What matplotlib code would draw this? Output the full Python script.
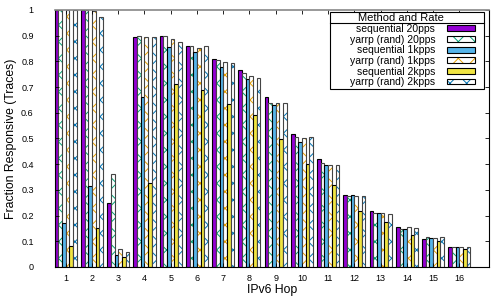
import numpy as np
import matplotlib.pyplot as plt
from matplotlib.patches import Patch, Rectangle

plt.rcParams["font.family"] = ["Liberation Sans", "DejaVu Sans"]
plt.rcParams["hatch.linewidth"] = 0.7

# data
hops = list(range(1, 17))
series_names = ["sequential 20pps", "yarrp (rand) 20pps", "sequential 1kpps",
                "yarrp (rand) 1kpps", "sequential 2kpps", "yarrp (rand) 2kpps"]
seq_20pps = [1.0, 1.0, 0.248, 0.896, 0.898, 0.861, 0.808, 0.767, 0.660, 0.519, 0.419, 0.279, 0.219, 0.157, 0.109, 0.077]
yarrp_20pps = [1.0, 1.0, 0.362, 0.899, 0.898, 0.860, 0.806, 0.754, 0.639, 0.505, 0.405, 0.275, 0.210, 0.147, 0.115, 0.077]
seq_1kpps = [0.172, 0.316, 0.047, 0.663, 0.855, 0.838, 0.776, 0.730, 0.629, 0.486, 0.398, 0.280, 0.210, 0.147, 0.112, 0.077]
yarrp_1kpps = [1.0, 0.995, 0.070, 0.894, 0.886, 0.853, 0.798, 0.741, 0.639, 0.501, 0.398, 0.276, 0.209, 0.154, 0.112, 0.077]
seq_2kpps = [0.083, 0.150, 0.040, 0.328, 0.711, 0.689, 0.633, 0.590, 0.497, 0.402, 0.318, 0.218, 0.174, 0.126, 0.100, 0.069]
yarrp_2kpps = [1.0, 0.974, 0.057, 0.894, 0.877, 0.861, 0.793, 0.734, 0.639, 0.505, 0.396, 0.276, 0.206, 0.150, 0.115, 0.078]

series = [seq_20pps, yarrp_20pps, seq_1kpps, yarrp_1kpps, seq_2kpps, yarrp_2kpps]
colors = ["#9400D3", "#009E73", "#56B4E9", "#E69F00", "#F0E442", "#0072B2"]
hatched = [False, True, False, True, False, True]
yticks = [0, 0.1, 0.2, 0.3, 0.4, 0.5, 0.6, 0.7, 0.8, 0.9, 1]
ytick_labels = ["0", "0.1", "0.2", "0.3", "0.4", "0.5", "0.6", "0.7", "0.8", "0.9", "1"]

fig = plt.figure(figsize=(5, 3), dpi=100)
ax = fig.add_axes([0.109, 0.11, 0.869, 0.857])

x = np.array(hops, dtype=float)
w = 0.14
handles = []
for i, (vals, col, hat) in enumerate(zip(series, colors, hatched)):
    pos = x + (i - 2.5) * w
    if hat:
        ax.bar(pos, vals, w, facecolor="white", edgecolor=col, hatch="xx", linewidth=0)
        ax.bar(pos, vals, w, fill=False, edgecolor="#444444", linewidth=0.8)
        handles.append((Patch(facecolor="white", edgecolor=col, hatch="xx", linewidth=0),
                        Patch(fill=False, edgecolor="black", linewidth=0.8)))
    else:
        ax.bar(pos, vals, w, color=col, edgecolor="black", linewidth=0.8)
        handles.append(Patch(facecolor=col, edgecolor="black", linewidth=0.8))

ax.set_xlim(0.57, 17.13)
ax.set_ylim(0, 1)
ax.set_xticks(hops)
ax.set_yticks(yticks)
ax.set_yticklabels(ytick_labels)
ax.tick_params(direction="in", top=True, right=True, labelsize=6.5, length=3, width=0.6)
ax.tick_params(axis="x", pad=5)
ax.tick_params(axis="y", pad=15)
for s in ax.spines.values():
    s.set_linewidth(0.8)
ax.spines["top"].set_color("#888888")
ax.spines["top"].set_linewidth(1.2)

ax.set_xlabel("IPv6 Hop", fontsize=8.8, labelpad=1)
ax.set_ylabel("Fraction Responsive (Traces)", fontsize=8.8, labelpad=3)

# key box drawn gnuplot-style: frame, title, rule, entries
ax.add_patch(Rectangle((0.634, 0.693), 0.354, 0.299, transform=ax.transAxes,
                       facecolor="white", edgecolor="black", linewidth=0.8, zorder=5))
ax.plot([0.634, 0.988], [0.949, 0.949], transform=ax.transAxes, color="black",
        linewidth=0.8, zorder=6)
ax.text(0.797, 0.969, "Method and Rate", transform=ax.transAxes, ha="center",
        va="center", fontsize=8, zorder=6)
leg = ax.legend(handles, series_names, loc="upper right", bbox_to_anchor=(0.970, 0.949),
                borderaxespad=0, borderpad=0.1, markerfirst=False, frameon=False,
                fontsize=7.5, handlelength=2.7, handleheight=0.5,
                labelspacing=0.06, handletextpad=1.1)
leg.set_zorder(7)

fig.savefig("out.png", dpi=100)
